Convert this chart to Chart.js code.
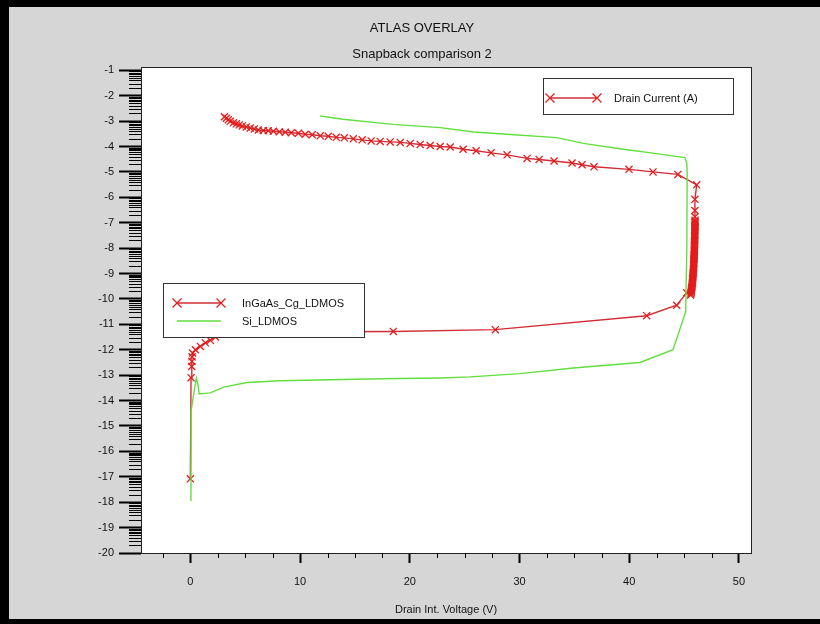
<!DOCTYPE html>
<html><head><meta charset="utf-8">
<script src="https://cdn.jsdelivr.net/npm/chart.js@4.4.1/dist/chart.umd.min.js"></script>
<style>html,body{margin:0;padding:0;background:#000;}canvas{display:block;}</style>
</head><body>
<canvas id="c" width="820" height="624"></canvas>
<script>
const chartTitle = 'ATLAS OVERLAY';
const chartSubtitle = 'Snapback comparison 2';
const xAxisTitle = 'Drain Int. Voltage (V)';
const yQuantityLabel = 'Drain Current (A)';
const seriesNames = ['InGaAs_Cg_LDMOS', 'Si_LDMOS'];
const xTickValues = [0, 10, 20, 30, 40, 50];
const yTickValues = [-1, -2, -3, -4, -5, -6, -7, -8, -9, -10, -11, -12, -13, -14, -15, -16, -17, -18, -19, -20];

// InGaAs_Cg_LDMOS: drain voltage (V) and log10 drain current, in path order
const ingaasV = [
  0.00, 0.06, 0.12, 0.14, 0.15, 0.21, 0.46, 0.91, 1.37, 1.82, 2.28, 2.73, 4.50, 9.00, 18.50, 27.80, 41.59, 44.33, 45.24,
  45.60, 45.62, 45.64, 45.66, 45.67, 45.69, 45.70, 45.72, 45.73, 45.75,
  45.76, 45.77, 45.78, 45.79, 45.80, 45.81, 45.82, 45.83, 45.84, 45.85,
  45.85, 45.86, 45.87, 45.87, 45.88, 45.89, 45.89, 45.90, 45.90, 45.91,
  45.91, 45.92, 45.92, 45.93, 45.93, 45.94, 45.94, 45.94, 45.95, 45.95,
  45.95, 45.96, 45.96, 45.96, 45.97, 45.97, 45.97, 45.97, 45.98, 45.98,
  45.98, 45.98, 45.99, 45.99, 45.99, 45.99, 46.00, 46.00, 46.00, 46.00,
  45.99, 45.99, 45.99, 46.15,
  44.44, 42.17, 39.98, 36.79, 35.70, 34.79, 33.15, 31.79, 30.69, 28.87, 27.41, 26.05, 24.86, 23.68, 22.77,
  21.86, 20.95, 20.04, 19.13, 18.21, 17.30, 16.48, 15.66, 14.85, 14.03, 13.30, 12.57, 11.84, 11.11, 10.47,
  9.84, 9.20, 8.65, 8.11, 7.56, 7.10, 6.65, 6.19, 5.83, 5.46, 5.10, 4.74, 4.46, 4.19, 3.92, 3.64, 3.46, 3.28, 3.10
];
const ingaasI = [
  -17.08, -13.10, -12.66, -12.46, -12.28, -12.13, -12.00, -11.87, -11.73, -11.63, -11.50, -11.37, -11.32, -11.30, -11.28, -11.21, -10.66, -10.25, -9.76,
  -9.85, -9.80, -9.75, -9.70, -9.65, -9.60, -9.55, -9.50, -9.45, -9.40,
  -9.35, -9.30, -9.25, -9.20, -9.15, -9.10, -9.05, -9.00, -8.95, -8.90,
  -8.85, -8.80, -8.75, -8.70, -8.65, -8.60, -8.55, -8.50, -8.45, -8.40,
  -8.35, -8.30, -8.25, -8.20, -8.15, -8.10, -8.05, -8.00, -7.95, -7.90,
  -7.85, -7.80, -7.75, -7.70, -7.65, -7.60, -7.55, -7.50, -7.45, -7.40,
  -7.35, -7.30, -7.25, -7.20, -7.15, -7.10, -7.05, -7.00, -6.95, -6.90,
  -6.77, -6.52, -6.08, -5.51,
  -5.10, -5.00, -4.90, -4.80, -4.72, -4.65, -4.57, -4.51, -4.47, -4.33, -4.25, -4.17, -4.11, -4.02, -4.00,
  -3.96, -3.92, -3.88, -3.84, -3.82, -3.80, -3.78, -3.74, -3.70, -3.66, -3.64, -3.60, -3.58, -3.54, -3.52,
  -3.48, -3.46, -3.44, -3.42, -3.40, -3.38, -3.37, -3.35, -3.31, -3.27, -3.23, -3.19, -3.15, -3.11, -3.07, -3.01, -2.95, -2.89, -2.83
];

// Si_LDMOS
const siV = [
  0.05, 0.07, 0.25, 0.45, 0.55, 0.70, 0.80, 1.82, 3.03, 5.16, 8.20, 12.75, 17.30, 22.77, 25.50, 30.05, 34.90, 40.98, 43.99,
  45.15, 45.25, 45.28, 45.24, 45.08, 42.50, 39.46, 35.82, 33.40, 28.84, 25.80, 22.77, 18.50, 13.90, 11.84
];
const siI = [
  -17.95, -14.40, -13.90, -13.35, -13.12, -13.40, -13.74, -13.70, -13.47, -13.29, -13.22, -13.18, -13.14, -13.11, -13.07, -12.94, -12.72, -12.50, -12.00,
  -10.50, -8.00, -5.00, -4.64, -4.44, -4.28, -4.11, -3.88, -3.65, -3.52, -3.43, -3.26, -3.13, -2.93, -2.80
];

const RED_LINE = 'rgb(208,45,55)';
const RED = 'rgb(228,28,28)';
const GREEN = 'rgb(98,222,62)';
const FONT = 'Liberation Sans, Arial, sans-serif';

function drawCross(ctx, x, y, r) {
  ctx.beginPath();
  ctx.moveTo(x - r, y - r); ctx.lineTo(x + r, y + r);
  ctx.moveTo(x - r, y + r); ctx.lineTo(x + r, y - r);
  ctx.stroke();
}

const decor = {
  id: 'decor',
  beforeDraw(chart) {
    const ctx = chart.ctx, a = chart.chartArea;
    ctx.save();
    ctx.fillStyle = '#000'; ctx.fillRect(0, 0, 820, 624);
    ctx.fillStyle = '#d6d6d6'; ctx.fillRect(9, 7, 811, 612);
    ctx.fillStyle = '#fff'; ctx.fillRect(a.left, a.top, a.right - a.left, a.bottom - a.top);
    ctx.restore();
  },
  afterDraw(chart) {
    const ctx = chart.ctx, a = chart.chartArea;
    const xs = chart.scales.x, ys = chart.scales.y;
    ctx.save();
    ctx.strokeStyle = '#222'; ctx.lineWidth = 1;
    ctx.strokeRect(Math.round(a.left) + 0.5, Math.round(a.top) + 0.5, Math.round(a.right - a.left), Math.round(a.bottom - a.top));
    ctx.strokeStyle = '#000'; ctx.lineWidth = 1;
    for (let n = -20; n < -1; n++) {
      for (let k = 2; k <= 9; k++) {
        const v = n + Math.log10(k);
        if (v > ys.max) continue;
        const py = Math.round(ys.getPixelForValue(v)) + 0.5;
        ctx.beginPath(); ctx.moveTo(a.left - 12, py); ctx.lineTo(a.left, py); ctx.stroke();
      }
    }
    for (let v = -2.5; v <= 50; v += 2.5) {
      if (Math.abs(v % 10) < 1e-6) continue;
      const px = Math.round(xs.getPixelForValue(v)) + 0.5;
      ctx.beginPath(); ctx.moveTo(px, a.bottom); ctx.lineTo(px, a.bottom + 5); ctx.stroke();
    }
    ctx.font = '11px ' + FONT; ctx.textBaseline = 'middle'; ctx.textAlign = 'left';
    ctx.fillStyle = '#fff'; ctx.strokeStyle = '#333';
    ctx.fillRect(543, 78, 190, 36); ctx.strokeRect(543.5, 78.5, 190, 36);
    ctx.strokeStyle = RED_LINE; ctx.lineWidth = 1.3;
    ctx.beginPath(); ctx.moveTo(550, 98); ctx.lineTo(597, 98); ctx.stroke();
    ctx.strokeStyle = RED;
    drawCross(ctx, 550, 98, 4.5); drawCross(ctx, 597, 98, 4.5);
    ctx.fillStyle = '#111'; ctx.fillText(yQuantityLabel, 614, 98.5);
    ctx.fillStyle = '#fff'; ctx.strokeStyle = '#333'; ctx.lineWidth = 1;
    ctx.fillRect(163, 283, 201, 54); ctx.strokeRect(163.5, 283.5, 201, 54);
    ctx.strokeStyle = RED_LINE; ctx.lineWidth = 1.3;
    ctx.beginPath(); ctx.moveTo(177, 303); ctx.lineTo(221, 303); ctx.stroke();
    ctx.strokeStyle = RED;
    drawCross(ctx, 177, 303, 4.5); drawCross(ctx, 221, 303, 4.5);
    ctx.strokeStyle = GREEN;
    ctx.beginPath(); ctx.moveTo(177, 321); ctx.lineTo(221, 321); ctx.stroke();
    ctx.fillStyle = '#111';
    ctx.fillText(seriesNames[0], 242, 303.5);
    ctx.fillText(seriesNames[1], 242, 321.5);
    ctx.restore();
  }
};

new Chart(document.getElementById('c'), {
  type: 'scatter',
  data: {
    datasets: [
      {
        label: seriesNames[0],
        data: ingaasV.map((v, i) => ({ x: v, y: ingaasI[i] })),
        showLine: true,
        borderColor: RED_LINE, borderWidth: 1.4,
        pointStyle: 'crossRot', pointRadius: 5, pointBorderWidth: 1.3,
        pointBorderColor: RED, pointBackgroundColor: RED,
        order: 1
      },
      {
        label: seriesNames[1],
        data: siV.map((v, i) => ({ x: v, y: siI[i] })),
        showLine: true,
        borderColor: GREEN, borderWidth: 1.4,
        pointRadius: 0,
        order: 0
      }
    ]
  },
  options: {
    responsive: false,
    animation: false,
    events: [],
    layout: { padding: { left: 93, right: 69, top: 6, bottom: 0 } },
    plugins: {
      legend: { display: false },
      tooltip: { enabled: false },
      title: {
        display: true, text: chartTitle, color: '#111',
        font: { family: FONT, size: 13, weight: 'normal' },
        padding: { top: 15, bottom: 0 }
      },
      subtitle: {
        display: true, text: chartSubtitle, color: '#111',
        font: { family: FONT, size: 13, weight: 'normal' },
        padding: { top: 10, bottom: 5 }
      }
    },
    scales: {
      x: {
        type: 'linear', min: -4.5, max: 51.1,
        afterBuildTicks: s => { s.ticks = xTickValues.map(v => ({ value: v })); },
        afterFit: s => { s.height = 71; },
        grid: { drawOnChartArea: false, drawTicks: true, tickLength: 10, tickWidth: 2, tickColor: '#000' },
        border: { display: true, color: '#222', width: 1 },
        ticks: { color: '#111', font: { family: FONT, size: 11 }, padding: 12, maxRotation: 0, autoSkip: false },
        title: { display: true, text: xAxisTitle, color: '#111', font: { family: FONT, size: 11 }, padding: { top: 0, bottom: 7 } }
      },
      y: {
        type: 'linear', min: -20, max: -0.88,
        afterBuildTicks: s => { s.ticks = yTickValues.map(v => ({ value: v })); },
        afterFit: s => { s.width = 48; },
        grid: { drawOnChartArea: false, drawTicks: true, tickLength: 22, tickWidth: 2, tickColor: '#000' },
        border: { display: true, color: '#222', width: 1 },
        ticks: { color: '#111', font: { family: FONT, size: 11 }, padding: 5, autoSkip: false }
      }
    }
  },
  plugins: [decor]
});
</script>
</body></html>
